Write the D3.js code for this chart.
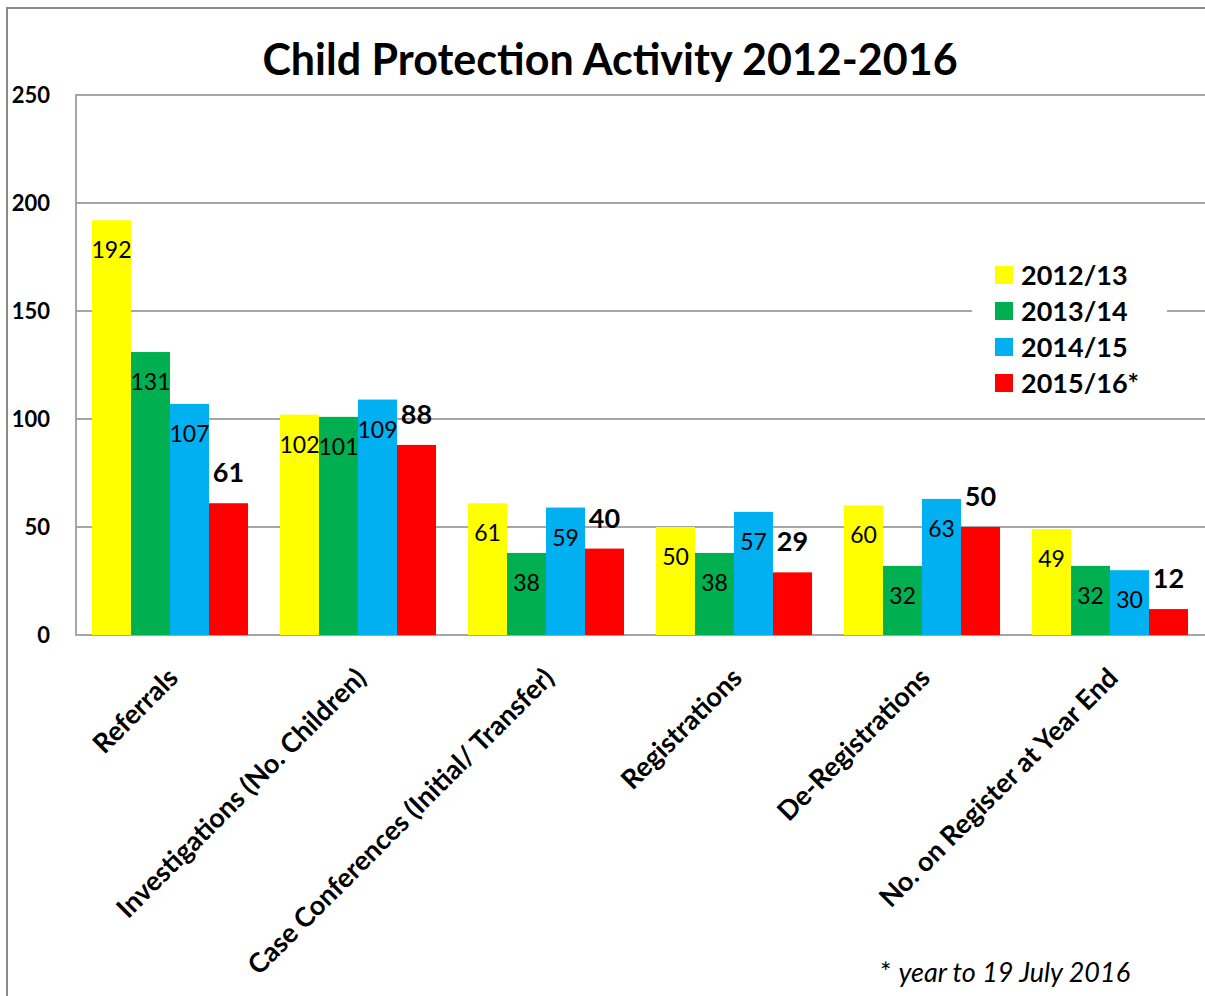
<!DOCTYPE html>
<html>
<head>
<meta charset="utf-8">
<script src="https://cdn.jsdelivr.net/npm/d3@7"></script>
<style>
  body { margin: 0; background: #fff; }
  svg { font-family: Lato, "Open Sans", sans-serif; }
  .grid line { stroke: #a6a6a6; stroke-width: 2; }
  .axis text { font-size: 22px; font-weight: bold; fill: #000; }
  .catLabel { font-size: 27px; font-weight: bold; fill: #000; }
</style>
</head>
<body>
<script>
//Global variables
const width = 1205;
const height = 996;
const plotLeft = 76, plotRight = 1204, plotTop = 95, plotBottom = 635;

//Data
const categories = ["Referrals", "Investigations (No. Children)", "Case Conferences (Initial/ Transfer)",
                    "Registrations", "De-Registrations", "No. on Register at Year End"];
const years = ["2012/13", "2013/14", "2014/15", "2015/16*"];
const v2012 = [192, 102, 61, 50, 60, 49];
const v2013 = [131, 101, 38, 38, 32, 32];
const v2014 = [107, 109, 59, 57, 63, 30];
const v2015 = [61, 88, 40, 29, 50, 12];
const yTicks = [0, 50, 100, 150, 200, 250];
const colors = ["#ffff00", "#00b050", "#00b0f0", "#ff0000"];

const series = [v2012, v2013, v2014, v2015];
const data = categories.map((c, i) => ({cat: c, values: series.map((s, j) => ({year: years[j], idx: j, value: s[i]}))}));

//Scales
const xScale = d3.scaleBand()
    .domain(categories)
    .range([plotLeft, plotRight])
    .paddingInner(0.17)
    .paddingOuter(0.085);

const xSub = d3.scaleBand()
    .domain(years)
    .range([0, xScale.bandwidth()]);

const yScale = d3.scaleLinear()
    .domain([0, 250])
    .range([plotBottom, plotTop]);

const color = d3.scaleOrdinal().domain(years).range(colors);

//SVG element
const svg = d3.select("body")
    .append("svg")
    .attr("width", width)
    .attr("height", height);

//Outer chart frame
svg.append("rect")
    .attr("x", 7).attr("y", 8)
    .attr("width", width + 20).attr("height", height + 20)
    .attr("fill", "#fff")
    .attr("stroke", "#8c8c8c")
    .attr("stroke-width", 2);

//Gridlines
svg.append("g")
    .attr("class", "grid")
    .selectAll("line")
    .data(yTicks.slice(1))
    .join("line")
    .attr("x1", plotLeft).attr("x2", width + 10)
    .attr("y1", d => yScale(d)).attr("y2", d => yScale(d));

//Plot area border
svg.append("rect")
    .attr("x", plotLeft).attr("y", plotTop)
    .attr("width", width).attr("height", plotBottom - plotTop)
    .attr("fill", "none")
    .attr("stroke", "#a6a6a6")
    .attr("stroke-width", 2);

//Bars
const groups = svg.append("g")
    .selectAll("g")
    .data(data)
    .join("g")
    .attr("transform", d => "translate(" + xScale(d.cat) + ",0)");

groups.selectAll("rect")
    .data(d => d.values)
    .join("rect")
    .attr("x", d => xSub(d.year))
    .attr("y", d => yScale(d.value))
    .attr("width", xSub.bandwidth())
    .attr("height", d => yScale(0) - yScale(d.value))
    .attr("fill", d => color(d.year));

//Data labels: inside end for first three years, bold above bar for latest year
groups.selectAll("text")
    .data(d => d.values)
    .join("text")
    .attr("x", d => xSub(d.year) + xSub.bandwidth() / 2)
    .attr("y", d => d.idx < 3 ? yScale(d.value) + 38 : yScale(d.value) - 21)
    .attr("text-anchor", "middle")
    .style("font-size", d => d.idx < 3 ? "23px" : "27px")
    .style("font-weight", d => d.idx < 3 ? "normal" : "bold")
    .style("fill", "#000")
    .text(d => d.value);

//Y axis labels
svg.append("g")
    .attr("class", "axis")
    .selectAll("text")
    .data(yTicks)
    .join("text")
    .attr("x", 50)
    .attr("y", d => yScale(d) + 8)
    .attr("text-anchor", "end")
    .text(d => d);

//Category labels rotated
svg.append("g")
    .selectAll("text")
    .data(categories)
    .join("text")
    .attr("class", "catLabel")
    .attr("text-anchor", "end")
    .attr("dy", "0.35em")
    .attr("transform", d => "translate(" + (xScale(d) + xScale.bandwidth() / 2 + 3) + ",673) rotate(-45)")
    .text(d => d);

//Legend
svg.append("rect")
    .attr("x", 972).attr("y", 256)
    .attr("width", 195).attr("height", 142)
    .attr("fill", "#fff");

const legend = svg.append("g")
    .selectAll("g")
    .data(years)
    .join("g")
    .attr("transform", (d, i) => "translate(995," + (275 + i * 36) + ")");

legend.append("rect")
    .attr("x", 0).attr("y", -9)
    .attr("width", 18).attr("height", 18)
    .attr("fill", d => color(d));

legend.append("text")
    .attr("x", 26).attr("y", 10)
    .style("font-size", "27px")
    .style("font-weight", "bold")
    .text(d => d);

//Title
svg.append("text")
    .attr("x", 610).attr("y", 75)
    .attr("text-anchor", "middle")
    .style("font-size", "43px")
    .style("font-weight", "bold")
    .text("Child Protection Activity 2012-2016");

//Footnote
const note = svg.append("text")
    .attr("x", 880).attr("y", 982)
    .style("font-size", "27px");
note.append("tspan").text("* ");
note.append("tspan").style("font-style", "italic").text("year to 19 July 2016");
</script>
</body>
</html>
